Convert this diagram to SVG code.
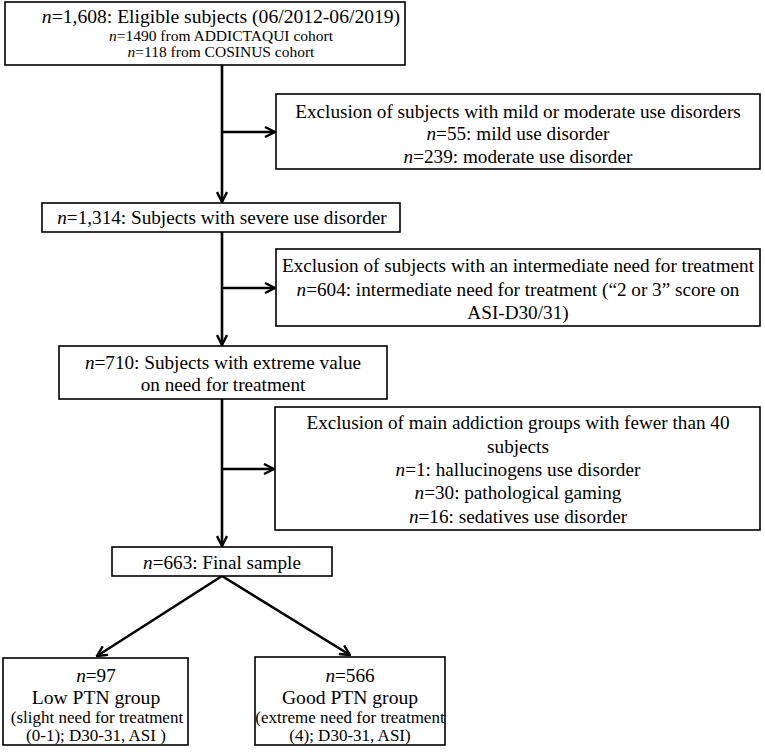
<svg xmlns="http://www.w3.org/2000/svg" width="765" height="752" viewBox="0 0 765 752">
<defs>
<style>
.box{fill:#fff;stroke:#000;stroke-width:1.6}
.t{font-family:"Liberation Serif","Times New Roman",serif;font-size:19.2px;fill:#000;text-anchor:middle}
.s{font-size:15.5px}
.m{font-size:17px}
.i{font-style:italic}
.c{stroke:#000;stroke-width:2.6;fill:none}
</style>
<marker id="ah" viewBox="0 0 12 12" refX="11" refY="6" markerWidth="12" markerHeight="12" markerUnits="userSpaceOnUse" orient="auto">
<path d="M1,1 L11,6 L1,11" fill="none" stroke="#000" stroke-width="2.4"/>
</marker>
</defs>
<rect width="765" height="752" fill="#fff"/>
<g id="connectors">
<line class="c" x1="222" y1="65" x2="222" y2="202" marker-end="url(#ah)"/>
<line class="c" x1="222" y1="132" x2="275" y2="132" marker-end="url(#ah)"/>
<line class="c" x1="222" y1="232" x2="222" y2="345" marker-end="url(#ah)"/>
<line class="c" x1="222" y1="288" x2="275" y2="288" marker-end="url(#ah)"/>
<line class="c" x1="222" y1="399" x2="222" y2="546" marker-end="url(#ah)"/>
<line class="c" x1="222" y1="469" x2="274" y2="469" marker-end="url(#ah)"/>
<line class="c" x1="222" y1="576" x2="97" y2="656" marker-end="url(#ah)"/>
<line class="c" x1="222" y1="576" x2="350" y2="655" marker-end="url(#ah)"/>
</g>
<g id="n1">
<rect class="box" x="5" y="2" width="400" height="63"/>
<text class="t" x="221" y="23" style="font-size:19.6px"><tspan class="i">n</tspan>=1,608: Eligible subjects (06/2012-06/2019)</text>
<text class="t s" x="221" y="41"><tspan class="i">n</tspan>=1490 from ADDICTAQUI cohort</text>
<text class="t s" x="221" y="57"><tspan class="i">n</tspan>=118 from COSINUS cohort</text>
</g>
<g id="ex1">
<rect class="box" x="276" y="94" width="484" height="75"/>
<text class="t" x="518" y="118">Exclusion of subjects with mild or moderate use disorders</text>
<text class="t" x="518" y="140"><tspan class="i">n</tspan>=55: mild use disorder</text>
<text class="t" x="518" y="163"><tspan class="i">n</tspan>=239: moderate use disorder</text>
</g>
<g id="n2">
<rect class="box" x="42" y="203" width="358" height="29"/>
<text class="t" x="222" y="224"><tspan class="i">n</tspan>=1,314: Subjects with severe use disorder</text>
</g>
<g id="ex2">
<rect class="box" x="276" y="249" width="484" height="77"/>
<text class="t" x="518" y="272">Exclusion of subjects with an intermediate need for treatment</text>
<text class="t" x="518" y="296"><tspan class="i">n</tspan>=604: intermediate need for treatment (“2 or 3” score on</text>
<text class="t" x="518" y="319">ASI-D30/31)</text>
</g>
<g id="n3">
<rect class="box" x="59" y="346" width="328" height="53"/>
<text class="t" x="223" y="369"><tspan class="i">n</tspan>=710: Subjects with extreme value</text>
<text class="t" x="223" y="391">on need for treatment</text>
</g>
<g id="ex3">
<rect class="box" x="275" y="407" width="485" height="123"/>
<text class="t" x="518" y="429">Exclusion of main addiction groups with fewer than 40</text>
<text class="t" x="518" y="453">subjects</text>
<text class="t" x="518" y="476"><tspan class="i">n</tspan>=1: hallucinogens use disorder</text>
<text class="t" x="518" y="499"><tspan class="i">n</tspan>=30: pathological gaming</text>
<text class="t" x="518" y="523"><tspan class="i">n</tspan>=16: sedatives use disorder</text>
</g>
<g id="n4">
<rect class="box" x="112" y="547" width="220" height="29"/>
<text class="t" x="222" y="569"><tspan class="i">n</tspan>=663: Final sample</text>
</g>
<g id="low">
<rect class="box" x="3" y="658" width="185" height="87"/>
<text class="t" x="96" y="682"><tspan class="i">n</tspan>=97</text>
<text class="t" x="96" y="704" style="font-size:19.6px">Low PTN group</text>
<text class="t m" x="97" y="723">(slight need for treatment</text>
<text class="t m" x="96" y="741">(0-1); D30-31, ASI )</text>
</g>
<g id="good">
<rect class="box" x="255" y="657" width="190" height="88"/>
<text class="t" x="350" y="682"><tspan class="i">n</tspan>=566</text>
<text class="t" x="350" y="704" style="font-size:19.6px">Good PTN group</text>
<text class="t m" x="350" y="723">(extreme need for treatment</text>
<text class="t m" x="350" y="741">(4); D30-31, ASI)</text>
</g>
</svg>
